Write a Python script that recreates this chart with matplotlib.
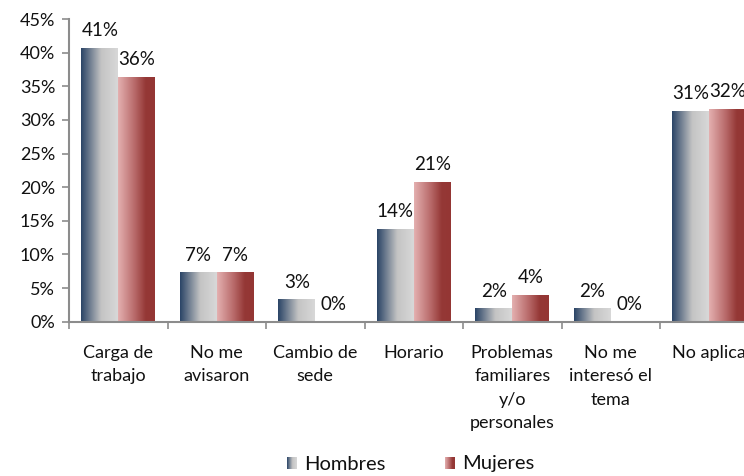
import numpy as np
import matplotlib
matplotlib.use("Agg")
import matplotlib.pyplot as plt
from matplotlib.colors import LinearSegmentedColormap

categories = ["Carga de\ntrabajo", "No me\navisaron", "Cambio de\nsede", "Horario",
              "Problemas\nfamiliares\ny/o\npersonales", "No me\ninteresó el\ntema", "No aplica"]
hombres = [40.7, 7.3, 3.3, 13.8, 2.0, 2.0, 31.3]
mujeres = [36.4, 7.3, 0.0, 20.8, 4.0, 0.0, 31.6]
series_names = ["Hombres", "Mujeres"]
yticks = [0, 5, 10, 15, 20, 25, 30, 35, 40, 45]

plt.rcParams['font.family'] = ['Lato', 'DejaVu Sans']

# horizontal gradients for each series
cmap_h = LinearSegmentedColormap.from_list(
    "h", [(0.0, "#2a4466"), (0.55, "#c4c4c4"), (1.0, "#d8d8d8")])
cmap_m = LinearSegmentedColormap.from_list(
    "m", [(0.0, "#e4b0b0"), (0.45, "#b86a6a"), (0.75, "#953836"), (1.0, "#943634")])
grad = np.linspace(0, 1, 256).reshape(1, -1)

fig = plt.figure(figsize=(7.44, 4.76), dpi=100)
ax = fig.add_axes([69 / 744, 154.3 / 476, 689.5 / 744, 302.7 / 476])

bw = 0.375
x = np.arange(len(categories))


def grad_bar(xc, h, cmap):
    if h <= 0:
        return
    ax.imshow(grad, extent=[xc - bw / 2, xc + bw / 2, 0, h], aspect='auto',
              cmap=cmap, interpolation='bilinear', zorder=2)


for i in range(len(categories)):
    grad_bar(x[i] - bw / 2, hombres[i], cmap_h)
    grad_bar(x[i] + bw / 2, mujeres[i], cmap_m)
    ax.text(x[i] - bw / 2, hombres[i] + 1.3, f"{hombres[i]:.0f}%", ha='center',
            va='bottom', fontsize=13.5, color="#111111")
    ax.text(x[i] + bw / 2, mujeres[i] + 1.3, f"{mujeres[i]:.0f}%", ha='center',
            va='bottom', fontsize=13.5, color="#111111")

ax.set_xlim(-0.5, len(categories) - 0.5)
ax.set_ylim(0, 45)
ax.set_yticks(yticks)
ax.set_yticklabels([f"{t}%" for t in yticks], fontsize=13, color="#111111")
ax.set_xticks(np.arange(len(categories) + 1) - 0.5)
ax.set_xticklabels([])
ax.tick_params(axis='both', color="#8c8c8c", length=5, width=1.2)
ax.tick_params(axis='y', pad=5)
for s in ["top", "right"]:
    ax.spines[s].set_visible(False)
for s in ["left", "bottom"]:
    ax.spines[s].set_color("#8c8c8c")
    ax.spines[s].set_linewidth(1.5)

for i, c in enumerate(categories):
    ax.text(x[i], -3.5, c, ha='center', va='top', fontsize=13, color="#111111",
            linespacing=1.55)

# legend with gradient swatches
for k, (name, cmap, xs) in enumerate(zip(series_names, [cmap_h, cmap_m], [287, 445])):
    sw = fig.add_axes([xs / 744, (476 - 469) / 476, 10 / 744, 12 / 476])
    sw.imshow(grad, aspect='auto', cmap=cmap, interpolation='bilinear')
    sw.axis('off')
    fig.text((xs + 17) / 744, (476 - 464) / 476, name, ha='left', va='center',
             fontsize=14.5, color="#111111")

fig.savefig("out.png", dpi=100)
